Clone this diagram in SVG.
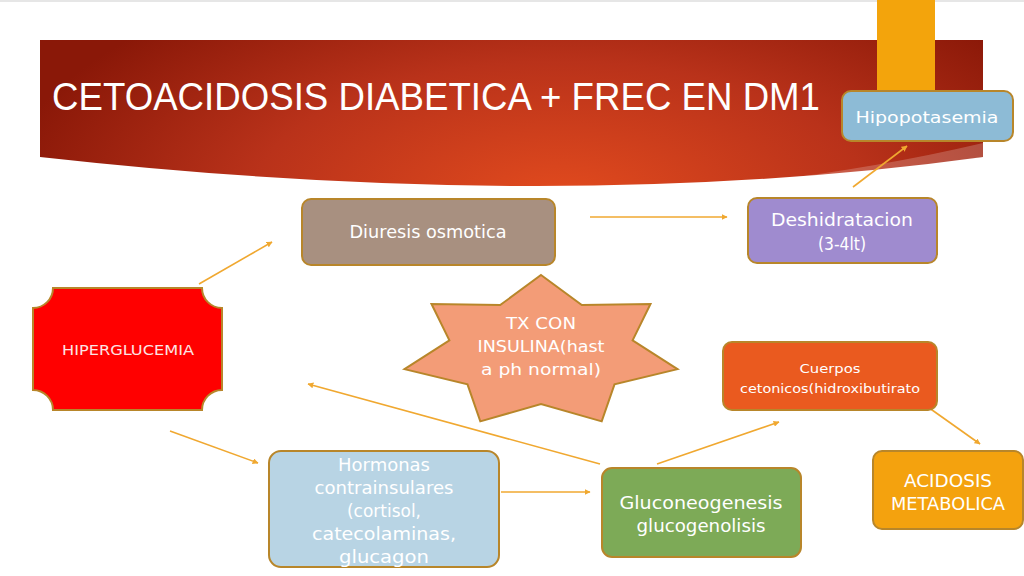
<svg xmlns="http://www.w3.org/2000/svg" width="1024" height="576" viewBox="0 0 1024 576">
<style>
.box{stroke:#B8862A;stroke-width:2}
.t{font-family:"DejaVu Sans","Liberation Sans",sans-serif;fill:#FFFFFF;text-anchor:middle}
.c{stroke:#F0A830;stroke-width:1.6;fill:none;marker-end:url(#ah)}
</style>
<defs>
<radialGradient id="bg" cx="560" cy="200" r="560" gradientUnits="userSpaceOnUse" gradientTransform="translate(560 200) scale(1 0.45) translate(-560 -200)">
<stop offset="0" stop-color="#E24B1E"/>
<stop offset="0.55" stop-color="#B9321A"/>
<stop offset="1" stop-color="#8A1808"/>
</radialGradient>
<marker id="ah" viewBox="0 0 10 10" refX="9" refY="5" markerWidth="6" markerHeight="6" orient="auto" markerUnits="userSpaceOnUse">
<path d="M0,0 L10,5 L0,10 Z" fill="#F0A830"/>
</marker>
</defs>
<rect x="0" y="0" width="1024" height="576" fill="#FFFFFF"/>
<rect x="0" y="0" width="1024" height="2" fill="#E6E6E6"/>
<g id="banner">
<path d="M40,40 H983 V157 Q560,215 40,157 Z" fill="url(#bg)"/>
<path d="M983,143 Q860,172 720,186 Q860,178 983,157 Z" fill="#FFFFFF" fill-opacity="0.2"/>
<text x="52" y="110" class="t" style="text-anchor:start;font-size:38px;font-family:'Liberation Sans',sans-serif" textLength="768" lengthAdjust="spacingAndGlyphs">CETOACIDOSIS DIABETICA + FREC EN DM1</text>
</g>
<rect x="877" y="-10" width="58" height="110" rx="6" fill="#F3A40C"/>
<g id="connectors">
<line class="c" x1="199" y1="284" x2="272" y2="242"/>
<line class="c" x1="170" y1="431" x2="258" y2="463"/>
<line class="c" x1="590" y1="217" x2="727" y2="217"/>
<line class="c" x1="853" y1="187" x2="907" y2="146"/>
<line class="c" x1="501" y1="492" x2="590" y2="492"/>
<line class="c" x1="600" y1="464" x2="308" y2="384"/>
<line class="c" x1="657" y1="464" x2="779" y2="422"/>
<line class="c" x1="918" y1="400" x2="980" y2="444"/>
</g>
<g id="hipopotasemia">
<rect class="box" x="842" y="91" width="171" height="50" rx="9" fill="#8DBBD6"/>
<text class="t" x="927" y="123" font-size="16" textLength="143" lengthAdjust="spacingAndGlyphs">Hipopotasemia</text>
</g>
<g id="diuresis">
<rect class="box" x="302" y="199" width="253" height="66" rx="9" fill="#A89080"/>
<text class="t" x="428" y="238" font-size="17" textLength="157" lengthAdjust="spacingAndGlyphs">Diuresis osmotica</text>
</g>
<g id="deshidratacion">
<rect class="box" x="748" y="198" width="189" height="65" rx="9" fill="#9F8BCF"/>
<text class="t" x="842" y="226" font-size="17" textLength="142" lengthAdjust="spacingAndGlyphs">Deshidratacion</text>
<text class="t" x="842" y="250" font-size="17" textLength="48" lengthAdjust="spacingAndGlyphs">(3-4lt)</text>
</g>
<g id="hiperglucemia">
<path class="box" d="M53,288 H202 A20,20 0 0 0 222,308 V390 A20,20 0 0 0 202,410 H53 A20,20 0 0 0 33,390 V308 A20,20 0 0 0 53,288 Z" fill="#FF0000"/>
<text class="t" x="128" y="355" font-size="13.5" style="fill:#FCE4E4" textLength="132" lengthAdjust="spacingAndGlyphs">HIPERGLUCEMIA</text>
</g>
<g id="tx">
<path class="box" d="M541,275 L581.8,305.1 L650.5,304 L632.6,340.4 L677.5,369.1 L614.5,384.4 L601.7,421.4 L541,404 L480.3,421.4 L467.5,384.4 L404.5,369.1 L449.4,340.4 L431.5,304 L500.2,305.1 Z" fill="#F39C77"/>
<text class="t" x="541" y="329" font-size="16.5" textLength="70" lengthAdjust="spacingAndGlyphs">TX CON</text>
<text class="t" x="541" y="352" font-size="16.5" textLength="127" lengthAdjust="spacingAndGlyphs">INSULINA(hast</text>
<text class="t" x="541" y="375" font-size="16.5" textLength="120" lengthAdjust="spacingAndGlyphs">a ph normal)</text>
</g>
<g id="cuerpos">
<rect class="box" x="723" y="342" width="214" height="68" rx="9" fill="#EA5A1F"/>
<text class="t" x="830" y="373" font-size="13" textLength="61" lengthAdjust="spacingAndGlyphs">Cuerpos</text>
<text class="t" x="830" y="393" font-size="13" textLength="180" lengthAdjust="spacingAndGlyphs">cetonicos(hidroxibutirato</text>
</g>
<g id="acidosis">
<rect class="box" x="873" y="451" width="150" height="78" rx="9" fill="#F4A20E"/>
<text class="t" x="948" y="487" font-size="18" textLength="88" lengthAdjust="spacingAndGlyphs">ACIDOSIS</text>
<text class="t" x="948" y="510" font-size="18" textLength="114" lengthAdjust="spacingAndGlyphs">METABOLICA</text>
</g>
<g id="hormonas">
<rect class="box" x="269" y="451" width="230" height="116" rx="12" fill="#B8D4E4"/>
<text class="t" x="384" y="471" font-size="17" textLength="92" lengthAdjust="spacingAndGlyphs">Hormonas</text>
<text class="t" x="384" y="494" font-size="17" textLength="139" lengthAdjust="spacingAndGlyphs">contrainsulares</text>
<text class="t" x="384" y="517" font-size="17" textLength="74" lengthAdjust="spacingAndGlyphs">(cortisol,</text>
<text class="t" x="384" y="540" font-size="17" textLength="144" lengthAdjust="spacingAndGlyphs">catecolaminas,</text>
<text class="t" x="384" y="563" font-size="17" textLength="90" lengthAdjust="spacingAndGlyphs">glucagon</text>
</g>
<g id="gluconeogenesis">
<rect class="box" x="602" y="468" width="199" height="89" rx="10" fill="#7DAA57"/>
<text class="t" x="701" y="509" font-size="17" textLength="163" lengthAdjust="spacingAndGlyphs">Gluconeogenesis</text>
<text class="t" x="701" y="532" font-size="17" textLength="129" lengthAdjust="spacingAndGlyphs">glucogenolisis</text>
</g>
</svg>
